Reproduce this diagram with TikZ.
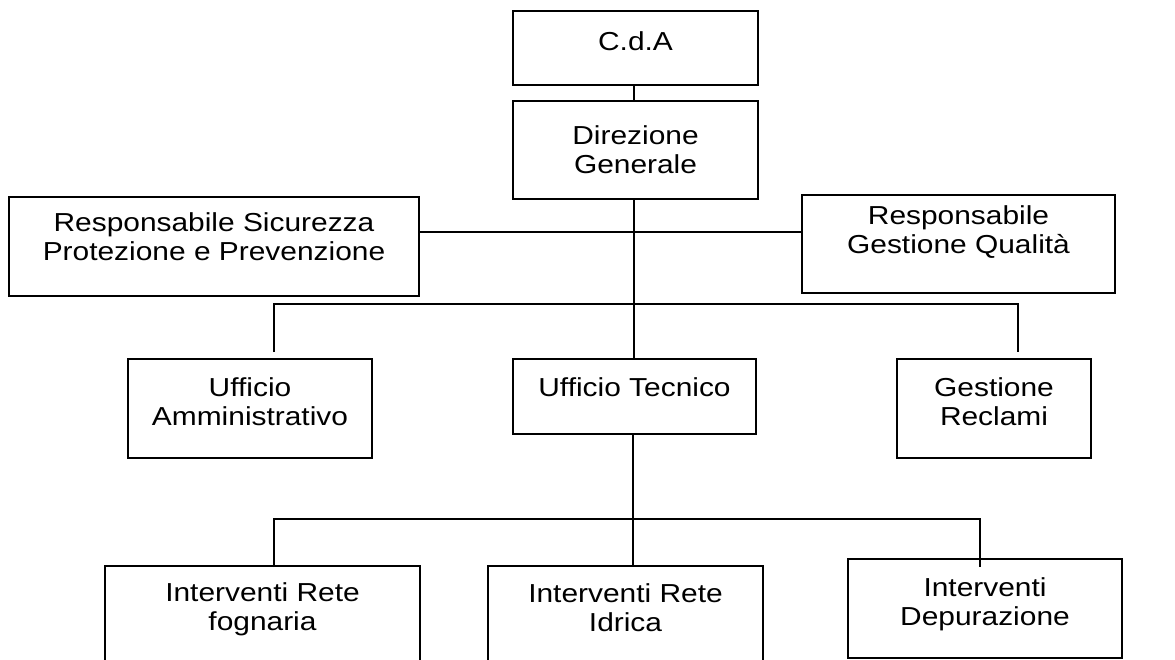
\documentclass[tikz,border=0pt]{standalone}
\usepackage{fontspec}
\setmainfont{Liberation Sans}[FakeStretch=1.15]
\begin{document}
\begin{tikzpicture}
[x=0.02cm, y=-0.02cm,
 box/.style={draw, line width=1.1pt, align=center, inner sep=0pt,
   font=\fontsize{14.8}{16.5}\selectfont},
 link/.style={line width=0.8pt}]
\useasboundingbox (0,0) rectangle (1175,659);
\clip (0,0) rectangle (1175,659);
% top
\node [box, minimum width=4.9cm, minimum height=1.48cm, text depth=0.28cm] (cda) at (635.5,48) {C.d.A};
\node [box, minimum width=4.9cm, minimum height=1.96cm] (dg) at (635.5,150) {Direzione\\Generale};
% staff
\node [box, minimum width=8.2cm, minimum height=1.98cm, text depth=0.4cm] (rspp) at (214,246.5) {Responsabile Sicurezza\\Protezione e Prevenzione};
\node [box, minimum width=6.26cm, minimum height=1.96cm, text depth=0.58cm] (rgq) at (958.5,244) {Responsabile\\Gestione Qualit\`a};
% uffici
\node [box, minimum width=4.88cm, minimum height=1.98cm, text depth=0.28cm] (uamm) at (250,408.5) {Ufficio\\Amministrativo};
\node [box, minimum width=4.86cm, minimum height=1.5cm, text depth=0.36cm] (utec) at (634.5,396.5) {Ufficio Tecnico};
\node [box, minimum width=3.88cm, minimum height=1.98cm, text depth=0.28cm] (grec) at (994,408.5) {Gestione\\Reclami};
% interventi
\node [box, minimum width=6.3cm, minimum height=1.98cm, text depth=0.34cm] (ifog) at (262.5,615.5) {Interventi Rete\\fognaria};
\node [box, minimum width=5.5cm, minimum height=1.98cm, text depth=0.32cm] (iidr) at (625.5,615.5) {Interventi Rete\\Idrica};
\node [box, minimum width=5.48cm, minimum height=1.98cm, text depth=0.26cm] (idep) at (985,608.5) {Interventi\\Depurazione};
% connectors
\coordinate (s1) at (634,232);
\coordinate (b1) at (634,304);
\coordinate (b2) at (633,519);
\coordinate (ua) at (274,352);
\coordinate (gr) at (1018,352);
\coordinate (fo) at (274,567);
\coordinate (de) at (980,567);
\draw [link] (cda.south -| s1) -- (dg.north -| s1);
\draw [link] (dg.south -| s1) -- (utec.north -| s1);
\draw [link] (rspp.east |- s1) -- (rgq.west |- s1);
\draw [link] (ua) -- (ua |- b1) -- (gr |- b1) -- (gr);
\draw [link] (utec.south -| b2) -- (iidr.north -| b2);
\draw [link] (fo) -- (fo |- b2) -- (de |- b2) -- (de);
\end{tikzpicture}
\end{document}
